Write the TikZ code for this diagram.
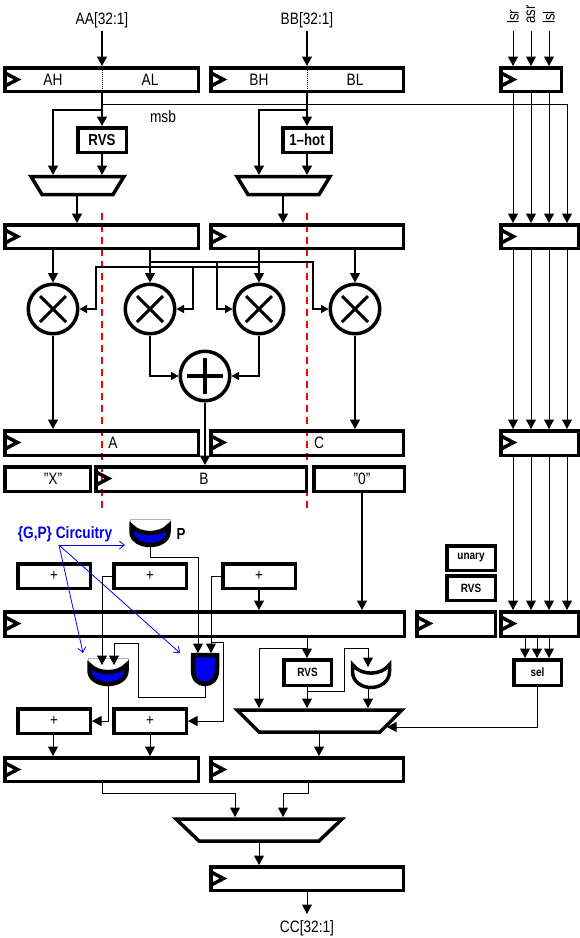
\documentclass[tikz,border=0pt]{standalone}
\usepackage{fontspec}
\setmainfont[FakeStretch=0.83]{Liberation Sans}
\usetikzlibrary{arrows.meta}
\definecolor{gblue}{RGB}{0,0,240}
\tikzset{
  thk/.style={line width=1.5pt},
  thn/.style={line width=1pt},
  arr/.style={-{Triangle[length=9.5pt,width=10pt]}},
  sarr/.style={-{Triangle[length=7.5pt,width=8pt]}},
  barb/.style={line width=.8pt,gblue,-{Straight Barb[length=5pt,width=8pt,line width=.8pt]}},
  boxb/.style={draw,line width=3.5pt,inner sep=0pt,anchor=north west,font=\fontsize{16}{16}\selectfont},
  latch/.style={line width=3.5pt,miter limit=10},
  lab/.style={inner sep=0pt,font=\fontsize{16.5}{16.5}\selectfont},
  blab/.style={inner sep=0pt,font=\bfseries\fontsize{16}{16}\selectfont},
  circ/.style={draw,circle,line width=3.5pt,minimum size=49.5pt,inner sep=0pt},
  mux/.style={line width=3.5pt,line join=miter},
  gate/.style={line width=4.5pt,line join=miter,fill=gblue},
  gbound/.style={line width=.8pt,black!30},
  redd/.style={red,line width=2pt,dash pattern=on 7pt off 5pt}
}
% plain box: name, x1, x2, y1, y2, text
\newcommand{\bx}[6]{\node[boxb,minimum width={(#3-#2-3.5)*1pt},minimum height={(#5-#4-3.5)*1pt}] (#1) at (#2,#4) {#6};}
% box holding a latch mark
\newcommand{\rg}[5]{\bx{#1}{#2}{#3}{#4}{#5}{}\draw[latch] (#2+2,#4+7) -- (#2+14.5,#4+13.5) -- (#2+2,#4+20);}
% OR-type gate: centre x, top y, half width, height
\newcommand{\orpath}[4]{(#1-#3,#2) .. controls (#1-#3*.55,#2+#4*.5) and (#1+#3*.55,#2+#4*.5) .. (#1+#3,#2) -- (#1+#3,#2+#4*.3) .. controls (#1+#3,#2+#4*.75) and (#1+#3*.5,#2+#4) .. (#1,#2+#4) .. controls (#1-#3*.5,#2+#4) and (#1-#3,#2+#4*.75) .. (#1-#3,#2+#4*.3) -- cycle}
\begin{document}
\begin{tikzpicture}[x=1pt,y=-1pt]
\useasboundingbox (0,0) rectangle (580,938);
\foreach \v in {53,59,77,83,96,102,108,114,125,138,150,180,193,198,205,211,217,223,235,259,283,307,308,313,319,344,355,362,368,387,513,525,531,537,549,567}{\coordinate (c\v) at (\v,0);}
\foreach \v in {31,104,110,262,267,309,376,545,557,576,642,643,648,653,691,697,721,727,793,914}{\coordinate (y\v) at (0,\v);}
% red dashed guides
\coordinate (redAt) at (102,213); \coordinate (redAb) at (102,510);
\coordinate (redBt) at (307,213); \coordinate (redBb) at (307,510);
\draw[redd] (redAt) -- (redAb);
\draw[redd] (redBt) -- (redBb);
% registers
\rg{ra}{3}{200}{66}{93}
\rg{rb}{209}{405}{66}{93}
\rg{rs1}{499}{563}{66}{93}
\rg{r2a}{3}{200}{223}{250}
\rg{r2b}{209}{405}{223}{250}
\rg{rs2}{499}{580}{223}{250}
\rg{rA}{3}{200}{429}{457}
\rg{rC}{209}{405}{429}{457}
\rg{rs3}{499}{580}{429}{457}
\rg{rB}{94}{308}{465}{493}
\bx{rX}{3}{92}{465}{493}{}
\bx{r0}{312}{406}{465}{493}{}
\rg{r4}{3}{406}{610}{638}
\rg{r4m}{415}{497}{610}{638}
\rg{rs4}{499}{580}{610}{638}
\rg{r5a}{3}{200}{756}{783}
\rg{r5b}{209}{405}{756}{783}
\rg{r6}{209}{405}{865}{892}
% labels in registers
\node[lab] (tAH) at (53,80) {AH};
\node[lab] (tAL) at (150,80) {AL};
\node[lab] (tBH) at (259,80) {BH};
\node[lab] (tBL) at (355,80) {BL};
\node[lab] (tA) at (113,443) {A};
\node[lab] (tC) at (319,443) {C};
\node[lab] (tB) at (204,479) {B};
\node[lab] (tX) at (53,479) {"X"};
\node[lab] (t0) at (362,479) {"0"};
% small boxes
\bx{rvsA}{76}{128}{126}{154}{\bfseries\fontsize{16}{16}\selectfont RVS}
\bx{hot}{281}{333}{126}{154}{\bfseries\fontsize{16}{16}\selectfont 1–hot}
\bx{un}{445}{497}{544}{572}{\bfseries\fontsize{12}{12}\selectfont unary}
\bx{rvsB}{445}{497}{574}{602}{\bfseries\fontsize{12}{12}\selectfont RVS}
\bx{rvsC}{282}{333}{658}{687}{\bfseries\fontsize{12}{12}\selectfont RVS}
\bx{sel}{512}{563}{658}{687}{\bfseries\fontsize{12}{12}\selectfont sel}
\bx{p1}{16}{92}{562}{590}{+}
\bx{p2}{112}{188}{562}{590}{+}
\bx{p3}{221}{297}{562}{590}{+}
\bx{p4}{16}{92}{707}{735}{+}
\bx{p5}{112}{188}{707}{735}{+}
% muxes
\draw[mux] (31,176.5) -- (124,176.5) -- (113,194.5) -- (42,194.5) -- cycle;
\coordinate (m1t) at (77,175); \coordinate (m1b) at (77,196);
\draw[mux] (237,176.5) -- (330,176.5) -- (319,194.5) -- (248,194.5) -- cycle;
\coordinate (m2t) at (283,175); \coordinate (m2b) at (283,196);
\draw[mux] (237,710) -- (402,710) -- (380,732) -- (259,732) -- cycle;
\coordinate (m3t) at (319,708); \coordinate (m3b) at (319,734);
\draw[mux] (176,819) -- (342,819) -- (319,841) -- (199,841) -- cycle;
\coordinate (m4t) at (259,817); \coordinate (m4b) at (259,843);
% multipliers and adder
\foreach \n/\xx in {x1/53,x2/150,x3/259,x4/355}{
  \node[circ] (\n) at (\xx,309) {};
  \draw[line width=3pt] (\xx-13,296) -- (\xx+13,322) (\xx-13,322) -- (\xx+13,296);
}
\node[circ] (add) at (205,376) {};
\draw[line width=4pt] (187,376) -- (223,376) (205,358) -- (205,394);
% gates
\draw[gbound] (130,525) -- (130,519) -- (170,519) -- (170,525);
\draw[gate] \orpath{150}{526}{18.5}{19};
\coordinate (gP) at (150,547);
\node[blab] (tP) at (181,534) {P};
\draw[gbound] (88,664) -- (88,658) -- (128,658) -- (128,664);
\draw[gate] \orpath{108}{665}{18.5}{19};
\coordinate (gO) at (108,686);
\coordinate (gOa) at (102,665); \coordinate (gOb) at (114,665);
\draw[gate] (193,655) -- (217,655) -- (217,670) .. controls (217,679) and (212,684) .. (205,684) .. controls (198,684) and (193,679) .. (193,670) -- cycle;
\coordinate (gA) at (205,686);
\coordinate (gAa) at (198,653); \coordinate (gAb) at (211,653);
\draw[line width=3.5pt,line join=miter] \orpath{371}{664.5}{18.5}{23};
\coordinate (gX) at (368,689); \coordinate (gXi) at (368,667);
% top labels and inputs
\node[lab] (inA) at (102,20) {AA[32:1]};
\node[lab] (inB) at (307,20) {BB[32:1]};
\node[lab,rotate=90,anchor=west,font=\fontsize{16}{16}\selectfont] (lsr) at (513,24) {lsr};
\node[lab,rotate=90,anchor=west,font=\fontsize{16}{16}\selectfont] (asr) at (531,24) {asr};
\node[lab,rotate=90,anchor=west,font=\fontsize{16}{16}\selectfont] (lsl) at (549,24) {lsl};
\node[lab] (msb) at (163,117) {msb};
\node[lab] (outC) at (307,928) {CC[32:1]};
\draw[thk,arr] (c102 |- y31) -- (c102 |- ra.north);
\draw[thk,arr] (c307 |- y31) -- (c307 |- rb.north);
\draw[thn,arr] (c513 |- y31) -- (c513 |- rs1.north);
\draw[thn,arr] (c531 |- y31) -- (c531 |- rs1.north);
\draw[thn,arr] (c549 |- y31) -- (c549 |- rs1.north);
\draw[thn,densely dotted] (c102 |- ra.north) -- (c102 |- ra.south);
\draw[thn,densely dotted] (c307 |- rb.north) -- (c307 |- rb.south);
% first stage
\draw[thk,arr] (c102 |- ra.south) -- (c102 |- rvsA.north);
\draw[thk,arr] (c307 |- rb.south) -- (c307 |- hot.north);
\draw[thk,arr] (c102 |- y110) -- (c53 |- y110) -- (c53 |- m1t);
\draw[thk,arr] (c307 |- y110) -- (c259 |- y110) -- (c259 |- m2t);
\draw[thk,arr] (c102 |- rvsA.south) -- (c102 |- m1t);
\draw[thk,arr] (c307 |- hot.south) -- (c307 |- m2t);
\draw[thk,arr] (m1b) -- (m1b |- r2a.north);
\draw[thk,arr] (m2b) -- (m2b |- r2b.north);
\draw[thn,arr] (c102 |- y104) -- (c567 |- y104) -- (c567 |- rs2.north);
\foreach \xx in {513,531,549}{
  \draw[thn,arr] (c\xx |- rs1.south) -- (c\xx |- rs2.north);
}
\foreach \xx in {513,531,549,567}{
  \draw[thn,arr] (c\xx |- rs2.south) -- (c\xx |- rs3.north);
  \draw[thn,arr] (c\xx |- rs3.south) -- (c\xx |- rs4.north);
}
% multiplier stage
\draw[thk,arr] (c53 |- r2a.south) -- (x1.north);
\draw[thk,arr] (c150 |- r2a.south) -- (x2.north);
\draw[thk,arr] (c259 |- r2b.south) -- (x3.north);
\draw[thk,arr] (c355 |- r2b.south) -- (x4.north);
\draw[thk,sarr] (c150 |- y262) -- (c313 |- y262) -- (c313 |- y309) -- (x4.west);
\draw[thk,sarr] (c217 |- y262) -- (c217 |- y309) -- (x3.west);
\draw[thk,sarr] (c259 |- y267) -- (c96 |- y267) -- (c96 |- y309) -- (x1.east);
\draw[thk,sarr] (c193 |- y267) -- (c193 |- y309) -- (x2.east);
\draw[thk,sarr] (x2.south) -- (c150 |- y376) -- (add.west);
\draw[thk,sarr] (x3.south) -- (c259 |- y376) -- (add.east);
\draw[thk,arr] (x1.south) -- (c53 |- rA.north);
\draw[thk,arr] (x4.south) -- (c355 |- rC.north);
\draw[thk,arr] (add.south) -- (add.south |- rB.north);
\draw[thk,arr] (c362 |- r0.south) -- (c362 |- r4.north);
% G,P circuitry
\node[inner sep=0pt,text=gblue,font=\bfseries\fontsize{16.5}{18}\selectfont] (gp) at (65,534) {\{G,P\} Circuitry};
\coordinate (gpo) at (59,545);
\coordinate (gpe1) at (125,545); \coordinate (gpe2) at (83,653); \coordinate (gpe3) at (180,653);
\draw[barb] (gpo) -- (gpe1);
\draw[barb] (gpo) -- (gpe2);
\draw[barb] (gpo) -- (gpe3);
\draw[thn,arr] (gP) -- (c150 |- y557) -- (c198 |- y557) -- (gAa);
\draw[thn,arr] (p3.west) -- (c211 |- y576) -- (gAb);
\draw[thn,arr] (p2.west) -- (c102 |- y576) -- (gOa);
\draw[thn,arr] (gA) -- (c205 |- y697) -- (c138 |- y697) -- (c138 |- y643) -- (c114 |- y643) -- (gOb);
\draw[thn,arr] (c211 |- y642) -- (c223 |- y642) -- (c223 |- y721) -- (p5.east |- y721);
\draw[thn,arr] (gO) -- (c108 |- y721) -- (p4.east |- y721);
\draw[thk,arr] (c259 |- p3.south) -- (c259 |- r4.north);
\draw[thn,arr] (c53 |- p4.south) -- (c53 |- r5a.north);
\draw[thn,arr] (c150 |- p5.south) -- (c150 |- r5a.north);
% shifter path
\draw[thn,arr] (c307 |- r4.south) -- (c307 |- rvsC.north);
\draw[thn,arr] (c307 |- y648) -- (c259 |- y648) -- (c259 |- m3t);
\draw[thn,arr] (c307 |- rvsC.south) -- (c307 |- m3t);
\draw[thn,arr] (c307 |- y691) -- (c344 |- y691) -- (c344 |- y648) -- (c368 |- y648) -- (gXi);
\draw[thn,arr] (gX) -- (c368 |- m3t);
\draw[thn,arr] (m3b) -- (m3b |- r5b.north);
\foreach \xx in {525,537,549}{
  \draw[thn,arr] (c\xx |- rs4.south) -- (c\xx |- sel.north);
}
\draw[thn,arr] (c537 |- sel.south) -- (c537 |- y727) -- (c387 |- y727);
% final stage
\draw[thn,arr] (c102 |- r5a.south) -- (c102 |- y793) -- (c235 |- y793) -- (c235 |- m4t);
\draw[thn,arr] (c308 |- r5b.south) -- (c308 |- y793) -- (c283 |- y793) -- (c283 |- m4t);
\draw[thn,arr] (m4b) -- (m4b |- r6.north);
\draw[thn,arr] (c307 |- r6.south) -- (c307 |- y914);
\end{tikzpicture}
\end{document}
